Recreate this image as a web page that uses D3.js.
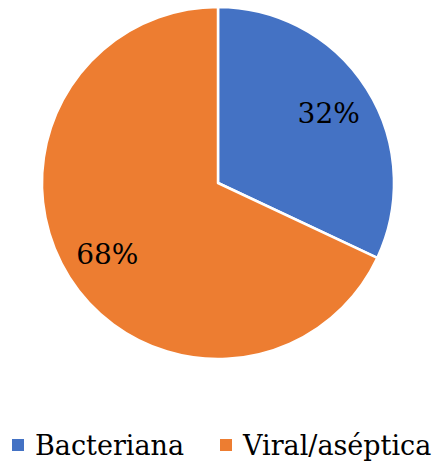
<!DOCTYPE html>
<html><head><meta charset="utf-8">
<script src="https://cdn.jsdelivr.net/npm/d3@7/dist/d3.min.js"></script>
<style>body{margin:0;background:#fff}svg{display:block}</style>
</head><body>
<svg id="c" width="440" height="464"></svg>
<script>
const categories = ["Bacteriana", "Viral/aséptica"];
const values = [32, 68];
const labels = ["32%", "68%"];
const colors = ["#4472C4", "#ED7D31"];

const svg = d3.select("#c");
const cx = 218, cy = 183, r = 176;
const pie = d3.pie().sort(null).value(d => d)(values);
const arc = d3.arc().innerRadius(0).outerRadius(r);
const g = svg.append("g").attr("transform", `translate(${cx},${cy})`);
g.selectAll("path").data(pie).join("path")
  .attr("d", arc).attr("fill", (d, i) => colors[i])
  .attr("stroke", "#fff").attr("stroke-width", 2.5).attr("stroke-linejoin", "round");
const labelArc = d3.arc().innerRadius(r * 0.745).outerRadius(r * 0.745);
g.selectAll("text").data(pie).join("text")
  .attr("transform", (d, i) => {
    const [x, y] = labelArc.centroid(d);
    return `translate(${x},${y})`;
  })
  .attr("text-anchor", "middle").attr("dy", "0.38em")
  .attr("font-family", "DejaVu Serif").attr("font-size", 28).attr("fill", "#000")
  .text((d, i) => labels[i]);

const legend = svg.append("g");
const lx = [12, 220];
categories.forEach((c, i) => {
  legend.append("rect").attr("x", lx[i]).attr("y", 439).attr("width", 12).attr("height", 12).attr("fill", colors[i]);
  legend.append("text").attr("x", lx[i] + 23).attr("y", 455)
    .attr("font-family", "DejaVu Serif").attr("font-size", 27).attr("fill", "#000").text(c);
});
</script>
</body></html>
